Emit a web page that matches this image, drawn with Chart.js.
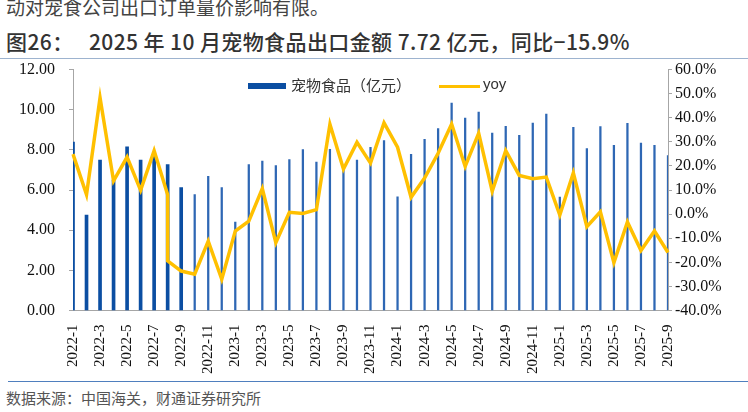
<!DOCTYPE html>
<html>
<head>
<meta charset="utf-8">
<script src="https://cdn.jsdelivr.net/npm/chart.js@4"></script>
<style>
  html, body { margin: 0; padding: 0; background: #fff; }
  #page { position: relative; width: 748px; height: 412px; overflow: hidden; }
  .cut { position: absolute; left: 6px; top: -7px; font: 19px "Noto Sans CJK SC"; color: #444; white-space: nowrap; }
  .title { position: absolute; left: 6px; top: 26px; font: 500 21px "Noto Sans CJK SC"; color: #333; white-space: nowrap; letter-spacing: 0.4px; }
  .rule-top { position: absolute; left: 0; top: 58px; width: 748px; height: 1px; background: #9db3cf; }
  .rule-bot { position: absolute; left: 8px; top: 381px; width: 740px; height: 1px; background: #4f7fbe; }
  .source { position: absolute; left: 6px; top: 387px; font: 15px "Noto Sans CJK SC"; color: #555; white-space: nowrap; }
  #box { position: absolute; left: 0; top: 46px; width: 748px; height: 334px; }
  .legend { position: absolute; top: 76px; left: 248px; font: 15px "Noto Sans CJK SC"; color: #333; white-space: nowrap; }
  .legend span { position: absolute; }
</style>
</head>
<body>
<div id="page">
  <div class="cut">动对宠食公司出口订单量价影响有限。</div>
  <div class="title">图26：&nbsp;&nbsp; 2025 年 10 月宠物食品出口金额 7.72 亿元，同比−15.9%</div>
  <div class="rule-top"></div>
  <div id="box"><canvas id="chart"></canvas></div>
  <div class="legend">
    <span style="left:0;top:7px;width:38px;height:6px;background:#0b4ea2"></span>
    <span style="left:43px;top:-2px">宠物食品（亿元）</span>
    <span style="left:191px;top:9px;width:41px;height:3px;background:#ffc000"></span>
    <span style="left:235px;top:-1px;font-family:'Liberation Sans'">yoy</span>
  </div>
  <div class="rule-bot"></div>
  <div class="source">数据来源：中国海关，财通证券研究所</div>
</div>

<script>
// -------------------------------
// DATA
// -------------------------------
const months = [
  "2022-1", "2022-2", "2022-3", "2022-4", "2022-5", "2022-6", "2022-7", "2022-8", "2022-9", "2022-10", "2022-11", "2022-12",
  "2023-1", "2023-2", "2023-3", "2023-4", "2023-5", "2023-6", "2023-7", "2023-8", "2023-9", "2023-10", "2023-11", "2023-12",
  "2024-1", "2024-2", "2024-3", "2024-4", "2024-5", "2024-6", "2024-7", "2024-8", "2024-9", "2024-10", "2024-11", "2024-12",
  "2025-1", "2025-2", "2025-3", "2025-4", "2025-5", "2025-6", "2025-7", "2025-8", "2025-9"
];

// 宠物食品出口金额（亿元）
const exportValue = [
  8.39, 4.76, 7.49, 6.50, 8.16, 7.49, 7.85, 7.27, 6.12, 5.78, 6.69, 6.12,
  4.41, 7.27, 7.44, 7.22, 7.52, 8.02, 7.39, 8.03, 7.05, 7.50, 8.13, 8.46,
  5.67, 7.78, 8.53, 9.06, 10.33, 9.58, 9.88, 8.84, 9.17, 8.73, 9.34, 9.78,
  5.65, 9.12, 8.07, 9.16, 8.23, 9.32, 8.34, 8.23, 7.72
];

// 同比（%）
const yoy = [
  24.9, 8.1, 48.3, 13.8, 23.7, 9.9, 26.4, 8.1, -23.6, -24.9, -11.2, -27.0,
  -7.0, -2.9, 10.6, -11.8, 0.8, 0.3, 1.9, 37.3, 18.7, 29.8, 21.2, 37.9,
  27.8, 7.0, 15.0, 25.3, 37.4, 19.8, 33.6, 9.5, 26.4, 16.1, 14.7, 15.4,
  -0.4, 17.1, -5.2, 1.0, -20.1, -3.2, -15.1, -7.0, -15.9
];

// 原图在 2022-8 处有一段竖直下落
const yoyDrop = { month: "2022-8", value: -19.4 };

// 前 9 根柱子较粗
const wideCount = 9;

// -------------------------------
// BUILD DATASETS
// -------------------------------
const wideBars = exportValue.map((v, i) => (i < wideCount ? v : null));
const thinBars = exportValue.map((v, i) => (i < wideCount ? null : v));

const yoyPoints = [];
months.forEach((m, i) => {
  yoyPoints.push({ x: m, y: yoy[i] });
  if (m === yoyDrop.month) yoyPoints.push({ x: m, y: yoyDrop.value });
});

const serif = "'Liberation Serif', 'Times New Roman', serif";
const axisGrey = "#a6a6a6";

function fixWidth(w) {
  return function (scale) { scale.width = w; };
}

// -------------------------------
// RENDER
// -------------------------------
new Chart(document.getElementById("chart"), {
  data: {
    labels: months,
    datasets: [
      {
        type: "line",
        label: "yoy",
        data: yoyPoints,
        yAxisID: "y1",
        borderColor: "#ffc000",
        borderWidth: 3.5,
        pointRadius: 0,
        tension: 0,
        order: 0
      },
      {
        type: "bar",
        label: "宠物食品（亿元）",
        data: wideBars,
        yAxisID: "y",
        backgroundColor: "#0b4ea2",
        barThickness: 3,
        grouped: false,
        order: 1
      },
      {
        type: "bar",
        label: "thin",
        data: thinBars,
        yAxisID: "y",
        backgroundColor: "#2e67b4",
        barThickness: 1.6,
        grouped: false,
        order: 1
      }
    ]
  },
  options: {
    responsive: true,
    maintainAspectRatio: false,
    animation: false,
    layout: { padding: 0 },
    plugins: {
      legend: { display: false },
      tooltip: { enabled: false }
    },
    scales: {
      x: {
        offset: false,
        grid: { display: false },
        border: { color: axisGrey, width: 1 },
        ticks: {
          autoSkip: false,
          maxRotation: 90,
          minRotation: 90,
          padding: 6,
          color: "#111",
          font: { family: serif, size: 15 },
          callback: function (value, index) {
            return index % 2 === 0 ? this.getLabelForValue(value) : "";
          }
        }
      },
      y: {
        position: "left",
        min: 0,
        max: 12,
        afterFit: fixWidth(73),
        grid: { drawOnChartArea: false, drawTicks: true, tickLength: 4, color: axisGrey },
        border: { color: axisGrey, width: 1 },
        ticks: {
          stepSize: 2,
          padding: 14,
          color: "#111",
          font: { family: serif, size: 16 },
          callback: v => v.toFixed(2)
        }
      },
      y1: {
        position: "right",
        min: -40,
        max: 60,
        afterFit: fixWidth(80),
        grid: { drawOnChartArea: false, drawTicks: true, tickLength: 4, color: axisGrey },
        border: { color: axisGrey, width: 1 },
        ticks: {
          stepSize: 10,
          padding: 3,
          color: "#111",
          font: { family: serif, size: 16 },
          callback: v => v.toFixed(1) + "%"
        }
      }
    }
  }
});
</script>
</body>
</html>
